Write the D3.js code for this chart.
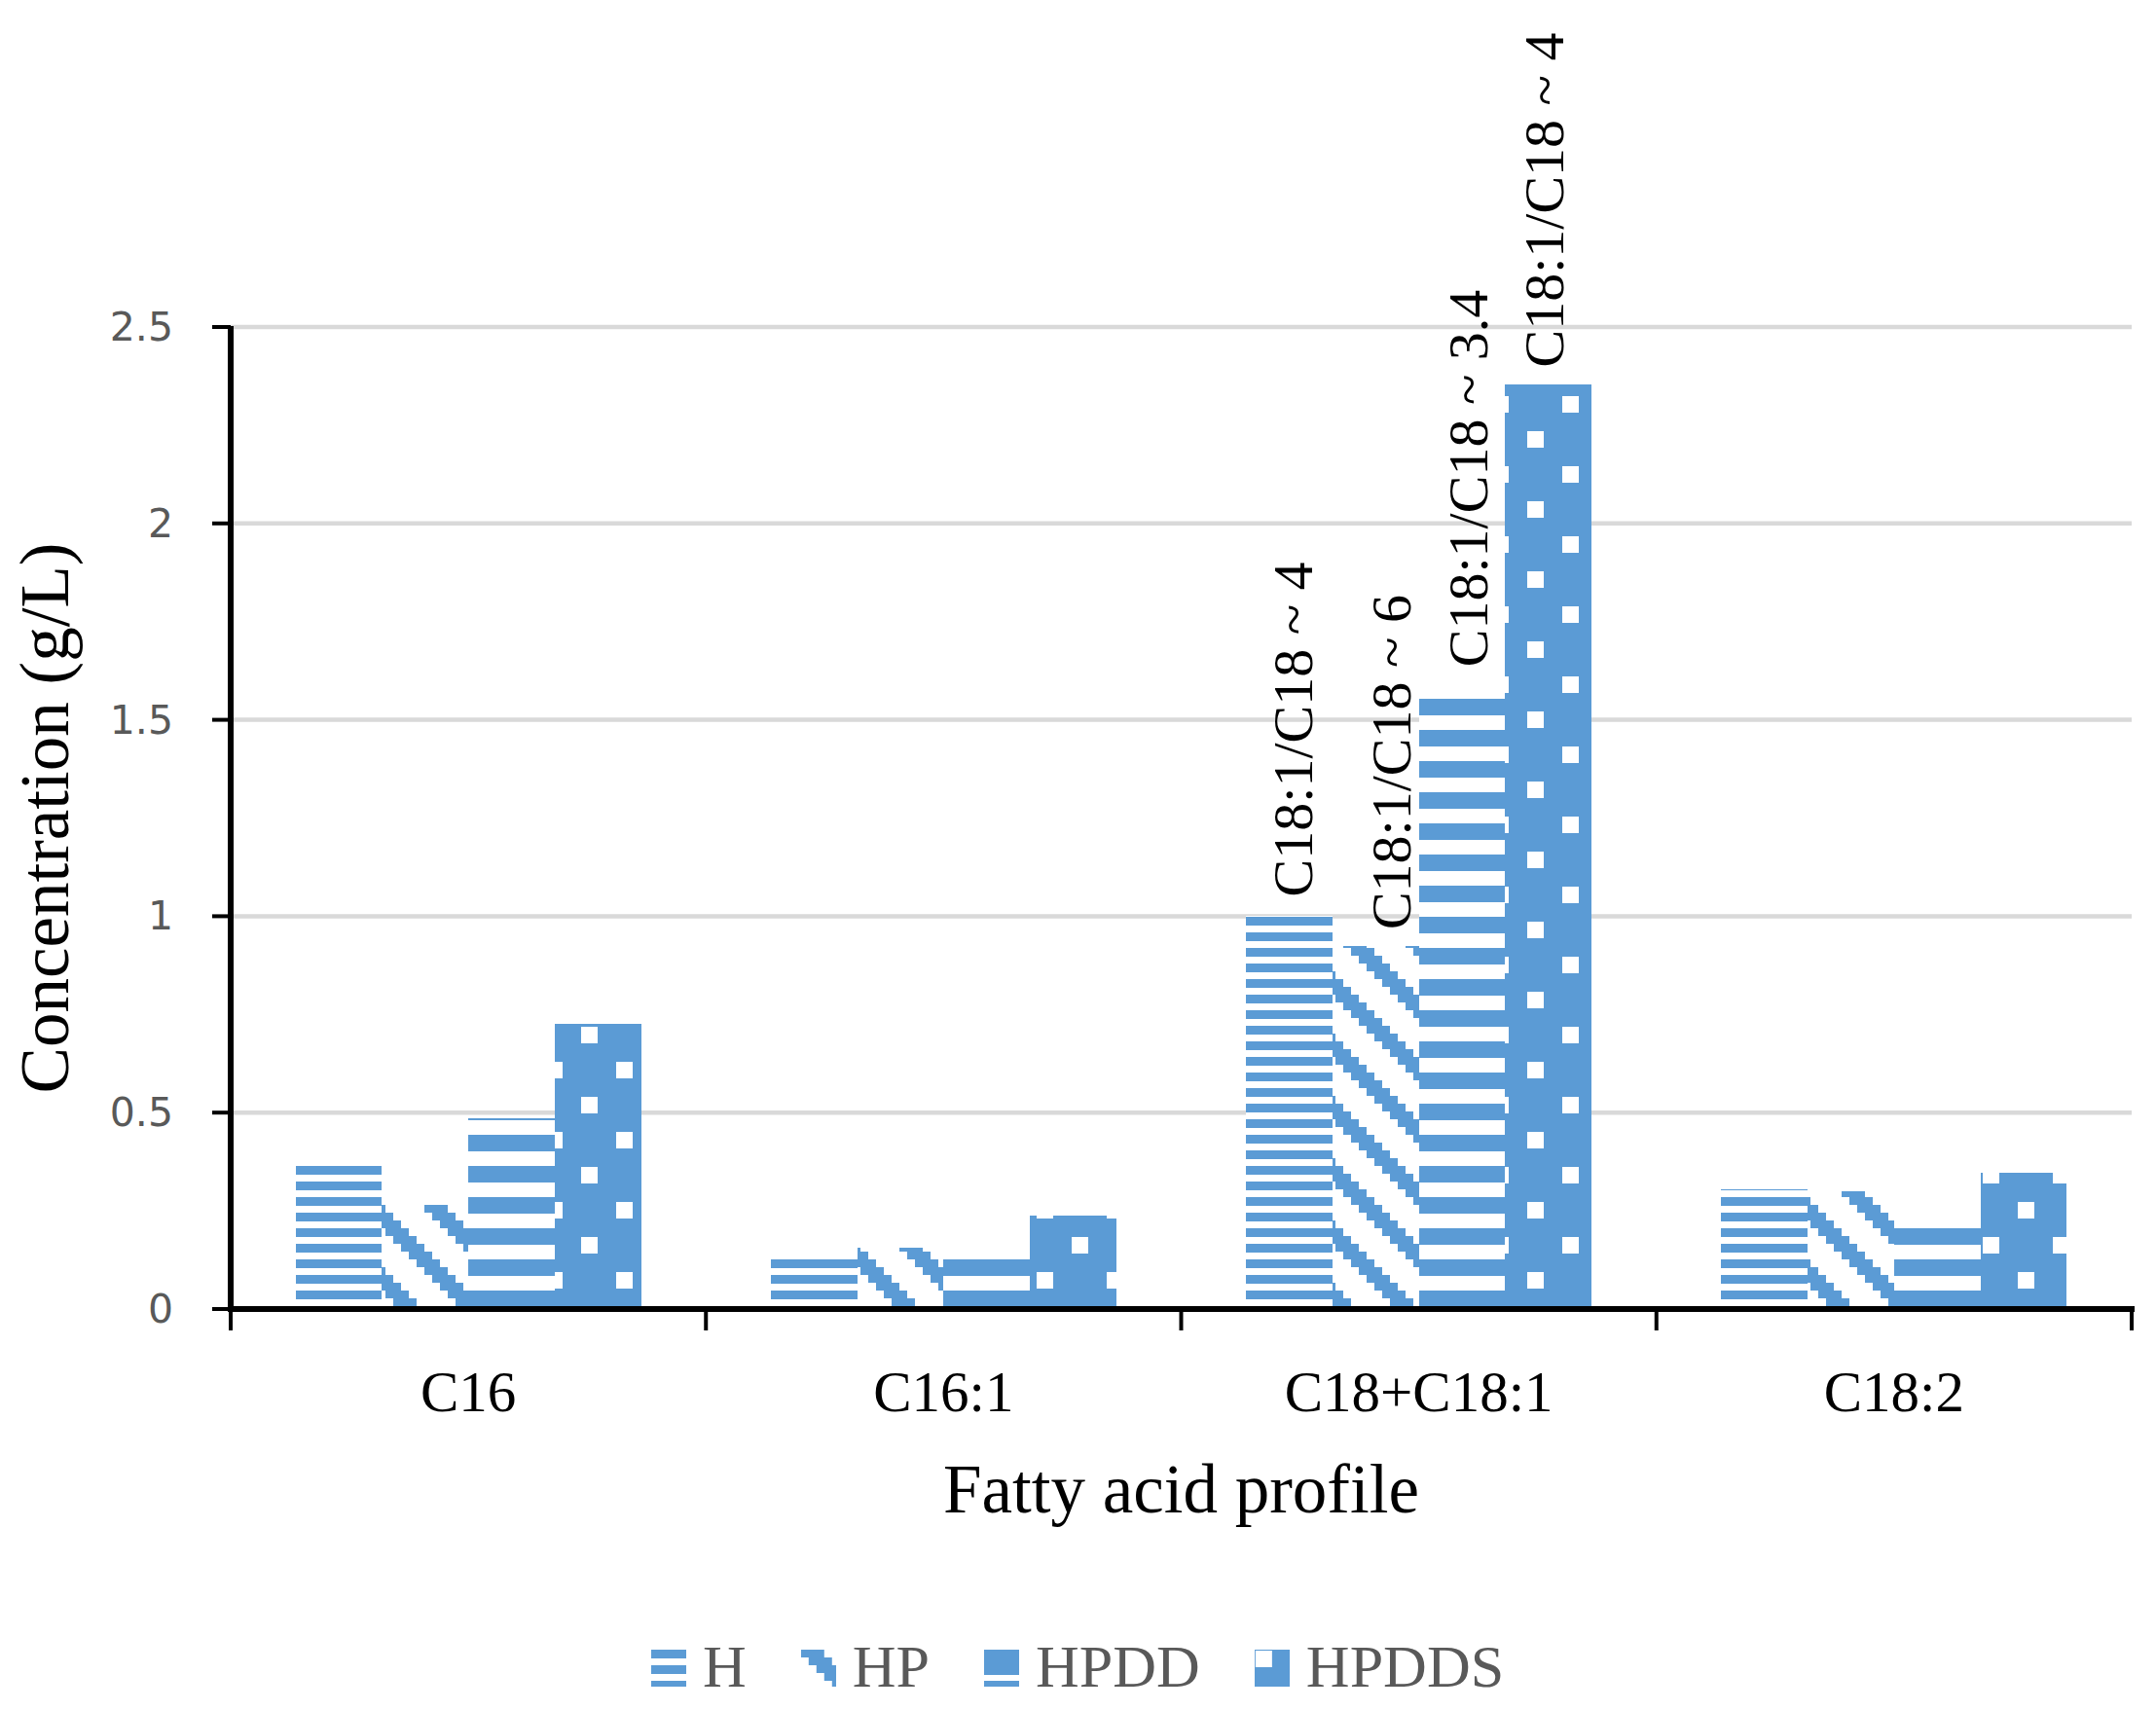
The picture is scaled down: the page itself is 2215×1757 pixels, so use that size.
<!DOCTYPE html>
<html>
<head>
<meta charset="utf-8">
<script src="https://cdn.jsdelivr.net/npm/d3@7"></script>
<style>
  html, body { margin: 0; padding: 0; background: #ffffff; }
  svg { display: block; }
</style>
</head>
<body>
<script>
// ---------------- data ----------------
const categories = ["C16", "C16:1", "C18+C18:1", "C18:2"];
const seriesNames = ["H", "HP", "HPDD", "HPDDS"];
const valuesH     = [0.364, 0.13, 1.0, 0.305];
const valuesHP    = [0.265, 0.156, 0.924, 0.30];
const valuesHPDD  = [0.486, 0.13, 1.553, 0.21];
const valuesHPDDS = [0.726, 0.238, 2.355, 0.347];
const yTickValues = [0, 0.5, 1, 1.5, 2, 2.5];
const yTickLabels = ["0", "0.5", "1", "1.5", "2", "2.5"];
const annotatedCategory = "C18+C18:1";
const annotationTexts = ["C18:1/C18 ~ 4", "C18:1/C18 ~ 6", "C18:1/C18 ~ 3.4", "C18:1/C18 ~ 4"];
const xTitle = "Fatty acid profile";
const yTitle = "Concentration (g/L)";

const seriesValues = [valuesH, valuesHP, valuesHPDD, valuesHPDDS];

// ---------------- layout ----------------
const W = 2215, H = 1757;
const BLUE = "#5b9bd5";
const plot = { left: 237, right: 2190, top: 336, bottom: 1345 };

const svg = d3.select("body").append("svg").attr("width", W).attr("height", H);
const defs = svg.append("defs");

// pattern builders
function patHoriz(id, x, y, period, blue) {
  const p = defs.append("pattern").attr("id", id).attr("patternUnits", "userSpaceOnUse")
    .attr("x", x).attr("y", y).attr("width", 16).attr("height", period)
    .attr("shape-rendering", "crispEdges");
  p.append("rect").attr("width", 16).attr("height", period).attr("fill", "#fff");
  p.append("rect").attr("width", 16).attr("height", blue).attr("fill", BLUE);
}
function patDiag(id, x, y, shift) {
  const p = defs.append("pattern").attr("id", id).attr("patternUnits", "userSpaceOnUse")
    .attr("x", x).attr("y", y).attr("width", 64).attr("height", 64)
    .attr("shape-rendering", "crispEdges");
  p.append("rect").attr("width", 64).attr("height", 64).attr("fill", "#fff");
  for (let r = 0; r < 8; r++) {
    for (let k = 0; k < 3; k++) {
      const c = (r + shift + k) % 8;
      p.append("rect").attr("x", c * 8).attr("y", r * 8).attr("width", 8).attr("height", 8).attr("fill", BLUE);
    }
  }
}
function patDots(id, x, y) {
  const p = defs.append("pattern").attr("id", id).attr("patternUnits", "userSpaceOnUse")
    .attr("x", x).attr("y", y).attr("width", 72).attr("height", 72)
    .attr("shape-rendering", "crispEdges");
  p.append("rect").attr("width", 72).attr("height", 72).attr("fill", BLUE);
  p.append("rect").attr("x", 0).attr("y", 0).attr("width", 17).attr("height", 17).attr("fill", "#fff");
  p.append("rect").attr("x", 36).attr("y", 36).attr("width", 17).attr("height", 17).attr("fill", "#fff");
}

// bar patterns (anchored to the page)
patHoriz("pat-H", 0, 14, 16, 9);
patDiag("pat-HP", 4, 6, 4);
patHoriz("pat-HPDD", 0, 14, 32, 17);
patDots("pat-HPDDS", 21, 47);

// ---------------- scales ----------------
const x0 = d3.scaleBand().domain(categories).range([plot.left, plot.right]).paddingInner(0).paddingOuter(0);
const x1 = d3.scaleBand().domain(seriesNames).range([0, x0.bandwidth()]).paddingInner(0).paddingOuter(0.75);
const y = d3.scaleLinear().domain([0, 2.5]).range([plot.bottom, plot.top]);

// ---------------- gridlines ----------------
svg.append("g").selectAll("line").data(yTickValues.filter(v => v > 0)).join("line")
  .attr("x1", plot.left).attr("x2", plot.right)
  .attr("y1", d => y(d)).attr("y2", d => y(d))
  .attr("stroke", "#d9d9d9").attr("stroke-width", 4.5);

// ---------------- bars ----------------
const barData = [];
categories.forEach((c, i) => {
  seriesNames.forEach((s, j) => barData.push({ cat: c, s: s, j: j, v: seriesValues[j][i] }));
});
svg.append("g").attr("shape-rendering", "crispEdges").selectAll("rect").data(barData).join("rect")
  .attr("x", d => x0(d.cat) + x1(d.s))
  .attr("y", d => y(d.v))
  .attr("width", x1.bandwidth())
  .attr("height", d => y(0) - y(d.v))
  .attr("fill", d => `url(#pat-${d.s})`);

// ---------------- axes ----------------
const axisG = svg.append("g").attr("stroke", "#000").attr("stroke-width", 6);
axisG.append("line").attr("x1", plot.left).attr("x2", plot.left).attr("y1", y(2.5) - 1).attr("y2", y(0));
axisG.append("line").attr("x1", plot.left - 3).attr("x2", plot.right + 3).attr("y1", y(0)).attr("y2", y(0));
// y ticks
axisG.selectAll(".yt").data(yTickValues).join("line").attr("class", "yt")
  .attr("x1", plot.left - 19).attr("x2", plot.left)
  .attr("y1", d => y(d)).attr("y2", d => y(d)).attr("stroke-width", 4);
// x ticks at category boundaries
const boundaries = categories.map(c => x0(c)).concat([x0(categories[categories.length - 1]) + x0.bandwidth()]);
axisG.selectAll(".xt").data(boundaries).join("line").attr("class", "xt")
  .attr("x1", d => d).attr("x2", d => d)
  .attr("y1", y(0)).attr("y2", y(0) + 22).attr("stroke-width", 4);

// y tick labels
svg.append("g").selectAll("text").data(yTickValues).join("text")
  .attr("x", 178).attr("y", d => y(d))
  .attr("text-anchor", "end").attr("dominant-baseline", "central")
  .attr("font-family", "DejaVu Sans, sans-serif").attr("font-size", 41)
  .attr("fill", "#595959")
  .text((d, i) => yTickLabels[i]);

// category labels
svg.append("g").selectAll("text").data(categories).join("text")
  .attr("x", d => x0(d) + x0.bandwidth() / 2).attr("y", 1450)
  .attr("text-anchor", "middle")
  .attr("font-family", "Liberation Serif, Times New Roman, serif").attr("font-size", 59)
  .attr("fill", "#000")
  .text(d => d);

// axis titles
svg.append("text").attr("x", (plot.left + plot.right) / 2).attr("y", 1554)
  .attr("text-anchor", "middle")
  .attr("font-family", "Liberation Serif, Times New Roman, serif").attr("font-size", 71)
  .attr("fill", "#000").text(xTitle);
svg.append("text").attr("transform", `translate(70,${(plot.top + plot.bottom) / 2}) rotate(-90)`)
  .attr("text-anchor", "middle")
  .attr("font-family", "Liberation Serif, Times New Roman, serif").attr("font-size", 71)
  .attr("fill", "#000").text(yTitle);

// annotation labels above the C18+C18:1 bars
const annFont = 58;
const annNudgeX = [4, 16, 6, -5];
const annGap = [20, 17, 33, 17];
const annIdx = categories.indexOf(annotatedCategory);
svg.append("g").selectAll("text").data(seriesNames).join("text")
  .attr("transform", (s, j) => {
    const cx = x0(annotatedCategory) + x1(s) + x1.bandwidth() / 2 + annFont * 0.34 + annNudgeX[j];
    const ty = y(seriesValues[j][annIdx]) - annGap[j];
    return `translate(${cx},${ty}) rotate(-90)`;
  })
  .attr("text-anchor", "start")
  .attr("font-family", "Liberation Serif, Times New Roman, serif").attr("font-size", annFont)
  .attr("fill", "#000")
  .text((s, j) => annotationTexts[j]);

// ---------------- legend ----------------
const legY = 1695, mW = 36, mH = 38, legFont = 62;
const leg = svg.append("g");
const items = [];
let cx = 0;
seriesNames.forEach((s, j) => {
  const g = leg.append("g");
  const t = g.append("text").attr("font-family", "Liberation Serif, Times New Roman, serif")
    .attr("font-size", legFont).attr("fill", "#595959").text(s);
  const tw = t.node().getComputedTextLength();
  items.push({ g, t, s, x: cx });
  cx += mW + 17 + tw + 56;
});
const totalW = cx - 56;
const legStart = Math.round(W / 2 - totalW / 2);
items.forEach((it, j) => {
  const mx = legStart + it.x;
  // legend-specific patterns anchored to marker
  if (it.s === "H") patHoriz("leg-H", mx, legY, 16, 9);
  if (it.s === "HP") patDiag("leg-HP", mx, legY, 0);
  if (it.s === "HPDD") patHoriz("leg-HPDD", mx, legY, 32, 26);
  if (it.s === "HPDDS") patDots("leg-HPDDS", mx + 1, legY + 1);
  it.g.insert("rect", "text").attr("x", mx).attr("y", legY).attr("width", mW).attr("height", mH)
    .attr("shape-rendering", "crispEdges")
    .attr("fill", `url(#leg-${it.s})`);
  it.t.attr("x", mx + mW + 17).attr("y", legY + mH);
});
</script>
</body>
</html>
